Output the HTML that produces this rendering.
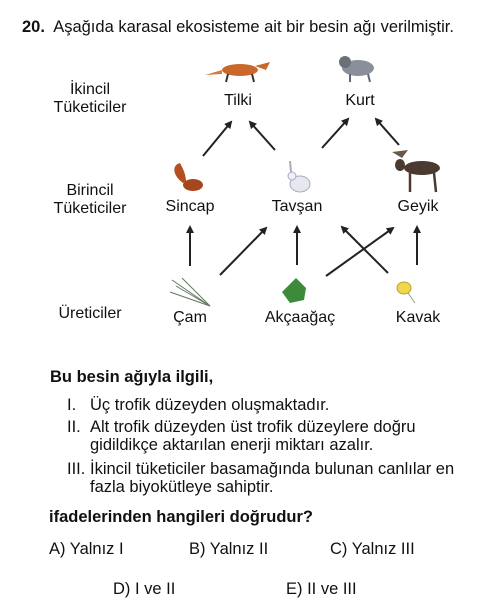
<!DOCTYPE html>
<html><head><meta charset="utf-8"><style>
body{margin:0;width:494px;height:613px;background:#fff;position:relative;font-family:"Liberation Sans",Arial,sans-serif;color:#111;overflow:hidden}
.t{position:absolute;font-size:16.5px;white-space:nowrap;line-height:18px}
.d{font-size:16px}
.c{transform:translateX(-50%)}
.b{font-weight:bold}
</style></head><body>
<div class="t" style="left:22px;top:18px"><b>20.</b>&nbsp; Aşağıda karasal ekosisteme ait bir besin ağı verilmiştir.</div>
<div class="t d c" style="left:90px;top:81px;text-align:center">İkincil<br>Tüketiciler</div>
<div class="t d c" style="left:90px;top:182px;text-align:center">Birincil<br>Tüketiciler</div>
<div class="t d c" style="left:90px;top:305px">Üreticiler</div>
<div class="t d c" style="left:238px;top:92px">Tilki</div>
<div class="t d c" style="left:360px;top:92px">Kurt</div>
<div class="t d c" style="left:190px;top:198px">Sincap</div>
<div class="t d c" style="left:297px;top:198px">Tavşan</div>
<div class="t d c" style="left:418px;top:198px">Geyik</div>
<div class="t d c" style="left:190px;top:309px">Çam</div>
<div class="t d c" style="left:300px;top:309px">Akçaağaç</div>
<div class="t d c" style="left:418px;top:309px">Kavak</div>
<svg width="494" height="613" style="position:absolute;left:0;top:0">
<defs><marker id="a" markerWidth="8" markerHeight="8" refX="6" refY="4" orient="auto" markerUnits="userSpaceOnUse" viewBox="0 0 8 8"><path d="M0,0 L8,4 L0,8 z" fill="#222"/></marker></defs>
<g stroke="#222" stroke-width="2" marker-end="url(#a)">
<line x1="203" y1="156" x2="231" y2="122"/>
<line x1="275" y1="150" x2="250" y2="122"/>
<line x1="322" y1="148" x2="348" y2="119"/>
<line x1="399" y1="145" x2="376" y2="119"/>
<line x1="190" y1="266" x2="190" y2="227"/>
<line x1="220" y1="275" x2="266" y2="228"/>
<line x1="297" y1="265" x2="297" y2="227"/>
<line x1="326" y1="276" x2="393" y2="228"/>
<line x1="388" y1="273" x2="342" y2="227"/>
<line x1="417" y1="265" x2="417" y2="227"/>
</g>
<ellipse cx="240" cy="70" rx="18" ry="6" fill="#c9682a"/><path d="M222,70 L205,75 L222,74z" fill="#d57a3a"/><path d="M255,66 L270,62 L266,70z" fill="#c9682a"/><g stroke="#333" stroke-width="2"><line x1="228" y1="74" x2="226" y2="82"/><line x1="252" y1="74" x2="254" y2="82"/></g>
<ellipse cx="358" cy="68" rx="16" ry="8" fill="#8a8f9a"/><ellipse cx="345" cy="62" rx="6" ry="6" fill="#6a707a"/><g stroke="#667" stroke-width="2"><line x1="350" y1="74" x2="350" y2="82"/><line x1="368" y1="74" x2="370" y2="82"/></g>
<ellipse cx="193" cy="185" rx="10" ry="6" fill="#a5461e"/><path d="M183,183 C172,175 172,165 180,163 C184,170 186,176 186,182z" fill="#b4501f"/>
<ellipse cx="300" cy="184" rx="10" ry="8" fill="#e6e8f0" stroke="#aab"/><ellipse cx="292" cy="176" rx="4" ry="4" fill="#eef" stroke="#aab"/><line x1="291" y1="172" x2="290" y2="161" stroke="#aab" stroke-width="2"/>
<ellipse cx="422" cy="168" rx="18" ry="7" fill="#4a3a30"/><ellipse cx="400" cy="165" rx="5" ry="6" fill="#4a3a30"/><path d="M392,152 L408,150 L402,158z" fill="#6a5848"/><g stroke="#4a3a30" stroke-width="2.5"><line x1="410" y1="173" x2="410" y2="192"/><line x1="434" y1="173" x2="436" y2="192"/></g>
<g stroke="#607860" stroke-width="1"><line x1="172" y1="280" x2="210" y2="306"/><line x1="176" y1="286" x2="210" y2="306"/><line x1="170" y1="292" x2="210" y2="306"/><line x1="182" y1="278" x2="210" y2="306"/></g>
<path d="M296,278 L306,288 L304,300 L290,303 L282,292z" fill="#3d8a3a"/>
<ellipse cx="404" cy="288" rx="7" ry="6" fill="#f0d84a" stroke="#b9a030"/><line x1="408" y1="293" x2="415" y2="303" stroke="#998" />
</svg>
<div class="t b" style="left:50px;top:368px">Bu besin ağıyla ilgili,</div>
<div class="t" style="left:67px;top:396px">I.</div><div class="t" style="left:90px;top:396px">Üç trofik düzeyden oluşmaktadır.</div>
<div class="t" style="left:67px;top:418px">II.</div><div class="t" style="left:90px;top:418px">Alt trofik düzeyden üst trofik düzeylere doğru</div>
<div class="t" style="left:90px;top:436px">gidildikçe aktarılan enerji miktarı azalır.</div>
<div class="t" style="left:67px;top:460px">III.</div><div class="t" style="left:90px;top:460px">İkincil tüketiciler basamağında bulunan canlılar en</div>
<div class="t" style="left:90px;top:478px">fazla biyokütleye sahiptir.</div>
<div class="t b" style="left:49px;top:508px">ifadelerinden hangileri doğrudur?</div>
<div class="t" style="left:49px;top:540px">A) Yalnız I</div>
<div class="t" style="left:189px;top:540px">B) Yalnız II</div>
<div class="t" style="left:330px;top:540px">C) Yalnız III</div>
<div class="t" style="left:113px;top:580px">D) I ve II</div>
<div class="t" style="left:286px;top:580px">E) II ve III</div>
</body></html>
